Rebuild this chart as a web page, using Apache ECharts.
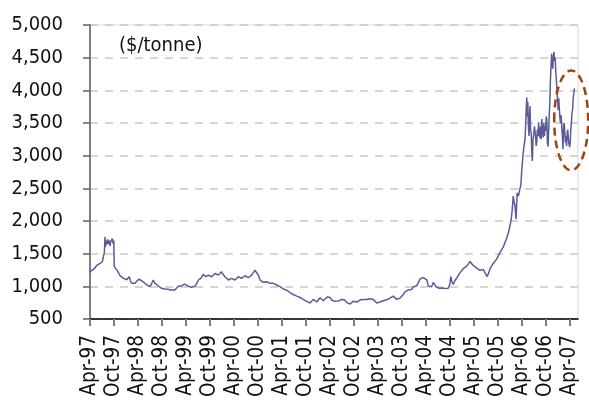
<!DOCTYPE html>
<html>
<head>
<meta charset="utf-8">
<script src="https://cdn.jsdelivr.net/npm/echarts@6/dist/echarts.min.js"></script>
<style>
html,body{margin:0;padding:0;background:#fff;}
#chart{width:589px;height:400px;}
</style>
</head>
<body>
<div id="chart"></div>
<script>
// x values: months since Apr-97
var months = [
0,0.3,0.6,1.0,1.3,1.7,2.0,2.5,2.8,3.1,3.4,3.6,3.75,3.85,4.0,4.2,4.4,4.6,4.8,5.0,5.2,5.4,5.6,5.8,5.95,6.05,6.4,6.8,7.2,7.5,
7.9,8.3,8.7,9.2,9.8,10.1,10.4,10.8,11.25,11.7,12.3,12.8,13.3,13.7,14.2,14.6,15.0,15.4,15.8,16.2,16.7,17.1,17.5,17.9,18.3,18.7,19.0,19.4,19.8,20.3,20.8,21.2,21.7,22.1,22.5,22.9,23.3,23.7,24.2,24.6,25.0,25.4,25.8,26.25,26.7,27.1,27.7,28.3,28.7,29.0,29.3,29.6,30.0,30.4,30.8,31.25,31.7,32.1,32.5,32.9,33.3,33.75,34.2,34.6,35.0,35.4,35.8,36.25,36.7,37.1,37.5,37.9,38.3,38.75,39.2,39.6,40.0,40.4,40.8,41.25,41.6,42.1,42.5,42.9,43.3,43.7,44.2,44.6,45.0,45.4,45.8,46.2,46.7,47.1,
47.5,48.3,49.2,50.0,50.8,51.7,52.5,53.3,54.2,54.6,55.0,55.4,55.8,56.3,56.7,57.1,57.5,58.0,58.3,58.8,59.3,59.7,60.0,60.4,60.8,61.2,61.7,62.1,62.5,62.9,63.3,63.7,64.2,64.6,65.0,65.4,65.8,66.3,66.7,67.1,67.5,67.9,68.3,68.75,69.2,69.6,70.0,70.4,70.8,71.2,71.7,72.1,72.5,72.9,73.3,73.7,74.2,74.6,75.0,75.4,75.8,76.25,76.7,77.1,77.5,77.9,78.3,78.75,79.2,79.6,80.0,80.4,80.8,81.25,81.7,82.1,82.5,82.9,83.3,83.75,84.2,84.4,84.6,85.0,85.4,85.8,86.0,86.3,86.5,86.9,87.3,87.7,88.2,88.6,89.0,89.3,89.6,90.0,90.2,90.5,90.8,91.25,91.7,92.1,92.5,92.9,93.3,93.75,94.2,94.6,95.0,95.2,95.5,95.8,96.2,96.7,97.1,97.5,97.9,98.3,98.8,99.3,99.7,100.0,100.4,100.8,101.3,101.7,102.1,102.5,102.9,103.3,103.75,104.2,104.6,105.0,105.2,105.4,105.6,105.8,106.0,106.25,106.5,106.8,107.1,107.5,107.7,107.9,108.1,108.3,108.5,108.75,108.9,109.05,109.2,109.3,109.45,109.6,109.75,109.9,110.0,110.15,110.3,110.45,110.6,110.75,110.9,111.1,111.25,111.4,111.55,111.7,111.85,112.0,112.15,112.3,112.5,112.65,112.8,112.95,113.1,113.3,113.45,113.6,113.75,113.9,114.05,114.2,114.35,114.5,114.65,114.8,114.95,115.1,115.25,115.4,115.55,115.7,115.85,116.0,116.15,116.3,116.45,116.6,116.75,116.9,117.05,117.2,117.35,117.5,117.65,117.8,117.95,118.1,118.25,118.4,118.55,118.7,118.85,119.0,119.15,119.3,119.45,119.6,119.75,119.9,120.05,120.2,120.35,120.5,120.65,120.8,120.95,121.1
];
// prices, $/tonne
var prices = [
1205,1240,1225,1265,1250,1320,1310,1350,1335,1380,1470,1520,1760,1600,1700,1640,1720,1650,1700,1620,1690,1660,1730,1650,1700,1310,1280,1240,1200,1165,
1175,1125,1140,1100,1147,1090,1046,1070,1046,1080,1110,1085,1070,1050,1020,1035,995,1040,1097,1050,1020,1005,995,970,944,960,970,955,970,945,919,945,970,1000,1030,1010,1020,1035,1046,1000,970,985,970,1000,1046,1097,1122,1182,1160,1147,1165,1172,1150,1147,1170,1197,1180,1172,1195,1223,1180,1147,1120,1097,1110,1122,1105,1097,1125,1147,1130,1122,1145,1162,1140,1132,1150,1172,1195,1248,1215,1172,1097,1080,1061,1080,1071,1055,1046,1060,1046,1030,1020,1010,
995,960,940,905,875,850,830,800,770,790,745,770,800,780,760,790,825,800,780,800,835,820,830,790,800,770,750,775,780,800,825,790,750,765,730,760,770,745,760,780,790,815,800,780,800,790,810,795,800,770,745,765,760,775,780,800,795,810,820,835,850,820,800,795,820,830,870,915,905,945,955,950,990,1020,1010,1040,1110,1090,1135,1110,1100,1050,1000,1010,995,1060,1090,1040,995,1010,970,990,975,990,965,960,975,1040,1150,1070,1030,1090,1130,1150,1210,1220,1270,1255,1310,1330,1380,1405,1350,1320,1340,1280,1300,1245,1270,1260,1200,1150,1210,1270,1300,1350,1380,1420,1470,1520,1550,1600,1670,1740,1820,1930,1990,2080,2200,2380,2300,2230,2030,2430,2380,2500,2540,2740,2900,3040,3150,3250,3450,3700,3890,3600,3820,3450,3300,3600,3760,3400,3350,3050,2920,3250,3300,3450,3480,3300,3150,3220,3400,3300,3510,3350,3270,3450,3250,3560,3400,3280,3500,3300,3450,3380,3600,3550,3200,3140,3350,3600,3800,4150,4350,4560,4400,4330,4520,4590,4450,4500,4280,4150,3990,3850,3700,3880,3700,3560,3500,3620,3420,3300,3100,3450,3500,3350,3200,3300,3150,3350,3400,3250,3180,3130,3200,3400,3500,3660,3700,3880,3950,4030
];
var xTickMonths = [0,6,12,18,24,30,36,42,48,54,60,66,72,78,84,90,96,102,108,114,120];
var xTickLabels = ['Apr-97','Oct-97','Apr-98','Oct-98','Apr-99','Oct-99','Apr-00','Oct-00','Apr-01','Oct-01','Apr-02','Oct-02','Apr-03','Oct-03','Apr-04','Oct-04','Apr-05','Oct-05','Apr-06','Oct-06','Apr-07'];
var unitLabel = '($/tonne)';
// highlighted region (month, price) for the dashed ellipse annotation
var highlightCenter = [120.3, 3540];

var FONT = '"DejaVu Sans Condensed", "DejaVu Sans", sans-serif';
var chart = echarts.init(document.getElementById('chart'), null, {renderer: 'canvas'});
var seriesData = months.map(function (m, i) { return [m, prices[i]]; });

chart.setOption({
  animation: false,
  backgroundColor: '#ffffff',
  grid: {left: 90, right: 11, top: 25, bottom: 79, show: true, borderColor: '#d9d9d9', borderWidth: 1, backgroundColor: 'transparent'},
  xAxis: {
    type: 'value', min: 0, max: 122,
    axisLine: {show: true, onZero: false, lineStyle: {color: '#000', width: 1.5}},
    axisTick: {show: true, customValues: xTickMonths, length: 7, lineStyle: {color: '#808080', width: 2}},
    axisLabel: {
      customValues: xTickMonths, rotate: 90, margin: 16, color: '#111', fontSize: 20.5, fontFamily: FONT,
      formatter: function (v) { var i = xTickMonths.indexOf(Math.round(v)); return i >= 0 ? xTickLabels[i] : ''; }
    },
    splitLine: {show: false}
  },
  yAxis: {
    type: 'value', min: 500, max: 5000, interval: 500,
    axisLine: {show: true, lineStyle: {color: '#808080', width: 2}},
    axisTick: {show: true, length: 7, lineStyle: {color: '#606060', width: 1.5}},
    axisLabel: {margin: 27, color: '#111', fontSize: 20, fontFamily: FONT,
      formatter: function (v) { return v.toLocaleString('en-US'); }},
    splitLine: {show: true, lineStyle: {color: '#c8c8c8', width: 1.5, type: [8, 7]}}
  },
  series: [{
    type: 'line', data: seriesData, showSymbol: false, symbol: 'none',
    lineStyle: {color: '#5b5b9b', width: 1.5}, itemStyle: {color: '#5b5b9b'}
  }],
  graphic: [{
    type: 'text', left: 119, top: 36,
    style: {text: unitLabel, font: '20px ' + FONT, fill: '#111'}
  }]
});

var c = chart.convertToPixel({gridIndex: 0}, highlightCenter);
chart.setOption({
  graphic: [{
    type: 'text', left: 119, top: 36,
    style: {text: unitLabel, font: '20px ' + FONT, fill: '#111'}
  }, {
    type: 'ellipse', shape: {cx: c[0], cy: c[1], rx: 17, ry: 50},
    style: {fill: 'none', stroke: '#a3420f', lineWidth: 2.5, lineDash: [8, 5]}, z: 100
  }]
});
</script>
</body>
</html>
